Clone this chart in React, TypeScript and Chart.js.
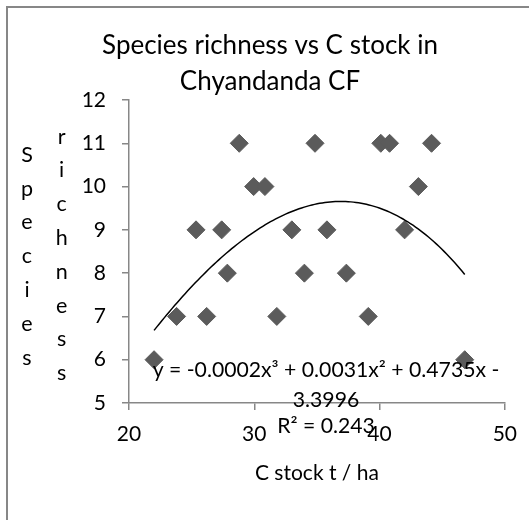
import React, { useEffect, useRef } from 'react';
import { Chart, registerables } from 'chart.js';

Chart.register(...registerables);

// ---- data ----
const chartTitle = ['Species richness vs C stock in', 'Chyandanda CF'];
const xAxisTitle = 'C stock t / ha';
const yAxisTitleColumns = ['Species', 'richness'];

// carbon stock (t / ha) per plot
const cStock = [
  22.0, 23.8, 25.35, 26.2, 27.4, 27.85, 28.8, 29.95, 30.85, 31.8, 33.0,
  34.0, 34.85, 35.8, 37.35, 39.1, 40.1, 40.8, 42.0, 43.1, 44.15, 46.8,
];
// number of species per plot
const speciesRichness = [
  6, 7, 9, 7, 9, 8, 11, 10, 10, 7, 9,
  8, 11, 9, 8, 7, 11, 11, 9, 10, 11, 6,
];

const xMin = 20;
const xMax = 50;
const xStep = 10;
const yMin = 5;
const yMax = 12;
const yStep = 1;

const trendLabelLines = ['y = -0.0002x³ + 0.0031x² + 0.4735x -', '3.3996', 'R² = 0.243'];

const FONT = 'Lato, "Open Sans", sans-serif';
const AXIS_GREY = '#878787';
const MARKER_GREY = '#5b5b5b';

// least-squares polynomial fit, returns coefficients [c0, c1, c2, ...]
function polyFit(xs: number[], ys: number[], degree: number): number[] {
  const n = degree + 1;
  const A: number[][] = [];
  for (let r = 0; r < n; r++) {
    const row: number[] = [];
    for (let c = 0; c < n; c++) {
      let s = 0;
      for (let i = 0; i < xs.length; i++) s += Math.pow(xs[i], r + c);
      row.push(s);
    }
    let b = 0;
    for (let i = 0; i < xs.length; i++) b += ys[i] * Math.pow(xs[i], r);
    row.push(b);
    A.push(row);
  }
  for (let col = 0; col < n; col++) {
    let piv = col;
    for (let r = col + 1; r < n; r++) if (Math.abs(A[r][col]) > Math.abs(A[piv][col])) piv = r;
    [A[col], A[piv]] = [A[piv], A[col]];
    for (let r = 0; r < n; r++) {
      if (r === col) continue;
      const f = A[r][col] / A[col][col];
      for (let c = col; c <= n; c++) A[r][c] -= f * A[col][c];
    }
  }
  return A.map((row, i) => row[n] / row[i]);
}

const coeffs = polyFit(cStock, speciesRichness, 3);
const evalPoly = (x: number) => coeffs.reduce((s, c, i) => s + c * Math.pow(x, i), 0);

const trendStart = Math.min(...cStock);
const trendEnd = Math.max(...cStock);
const trendSamples = 120;
const trendPoints = Array.from({ length: trendSamples + 1 }, (_, i) => {
  const x = trendStart + ((trendEnd - trendStart) * i) / trendSamples;
  return { x, y: evalPoly(x) };
});

// white page, grey frame, stacked y title and trendline equation
const decorPlugin = {
  id: 'decor',
  beforeDraw(chart: Chart) {
    const { ctx, width, height } = chart;
    ctx.save();
    ctx.fillStyle = '#ffffff';
    ctx.fillRect(0, 0, width, height);
    ctx.fillStyle = AXIS_GREY;
    ctx.fillRect(6, 6, 2, height - 6);
    ctx.fillRect(6, 6, width - 6, 2);
    ctx.restore();
  },
  afterDraw(chart: Chart) {
    const { ctx } = chart;
    ctx.save();
    ctx.fillStyle = '#000000';
    ctx.textAlign = 'center';
    ctx.textBaseline = 'alphabetic';

    // vertical stacked axis title, one column per word
    ctx.font = `21.5px ${FONT}`;
    const colX = [27, 61.7];
    const colStart = [161.7, 143.5];
    const letterStep = 33.8;
    yAxisTitleColumns.forEach((word, ci) => {
      word.split('').forEach((ch, li) => {
        ctx.fillText(ch, colX[ci], colStart[ci] + li * letterStep);
      });
    });

    // trendline equation
    ctx.font = `21.2px ${FONT}`;
    const baselines = [377.3, 406.7, 433.3];
    trendLabelLines.forEach((line, i) => {
      ctx.fillText(line, 326, baselines[i]);
    });
    ctx.restore();
  },
};

export default function App() {
  const canvasRef = useRef<HTMLCanvasElement | null>(null);

  useEffect(() => {
    const canvas = canvasRef.current;
    if (!canvas) return;
    const chart = new Chart(canvas, {
      type: 'scatter',
      data: {
        datasets: [
          {
            label: 'Species richness',
            data: cStock.map((x, i) => ({ x, y: speciesRichness[i] })),
            pointStyle: 'rectRot',
            pointRadius: 9,
            pointHoverRadius: 9,
            backgroundColor: MARKER_GREY,
            borderColor: MARKER_GREY,
            borderWidth: 1,
            showLine: false,
            order: 2,
          },
          {
            label: 'Poly. (Species richness)',
            data: trendPoints,
            showLine: true,
            pointRadius: 0,
            borderColor: '#000000',
            borderWidth: 1.5,
            fill: false,
            tension: 0,
            order: 1,
          },
        ],
      },
      options: {
        animation: false,
        responsive: false,
        devicePixelRatio: 1,
        events: [],
        layout: { padding: { top: 0, left: 33, right: 22, bottom: 0 } },
        plugins: {
          legend: { display: false },
          tooltip: { enabled: false },
          title: {
            display: true,
            text: chartTitle,
            color: '#000000',
            font: { family: FONT, size: 26, weight: 'normal', lineHeight: 36.5 / 26 },
            padding: { top: 27, bottom: 0 },
          },
        },
        scales: {
          x: {
            type: 'linear',
            min: xMin,
            max: xMax,
            afterFit(scale: any) {
              scale.height = 117;
            },
            ticks: {
              stepSize: xStep,
              color: '#000000',
              font: { family: FONT, size: 21 },
              padding: 12,
            },
            grid: {
              drawOnChartArea: false,
              drawTicks: true,
              tickLength: 7,
              color: AXIS_GREY,
              lineWidth: 1.5,
            },
            border: { display: true, color: AXIS_GREY, width: 1.5 },
            title: {
              display: true,
              text: xAxisTitle,
              color: '#000000',
              font: { family: FONT, size: 21 },
              padding: { top: 0, bottom: 34 },
            },
          },
          y: {
            type: 'linear',
            min: yMin,
            max: yMax,
            afterFit(scale: any) {
              scale.width = 96;
            },
            ticks: {
              stepSize: yStep,
              color: '#000000',
              font: { family: FONT, size: 21 },
              padding: 16,
            },
            grid: {
              drawOnChartArea: false,
              drawTicks: true,
              tickLength: 7,
              color: AXIS_GREY,
              lineWidth: 1.5,
            },
            border: { display: true, color: AXIS_GREY, width: 1.5 },
          },
        },
      },
      plugins: [decorPlugin],
    });
    return () => chart.destroy();
  }, []);

  return (
    <div style={{ position: 'fixed', left: 0, top: 0, width: 529, height: 520, background: '#ffffff' }}>
      <canvas ref={canvasRef} width={529} height={520} style={{ display: 'block', width: 529, height: 520 }} />
    </div>
  );
}
